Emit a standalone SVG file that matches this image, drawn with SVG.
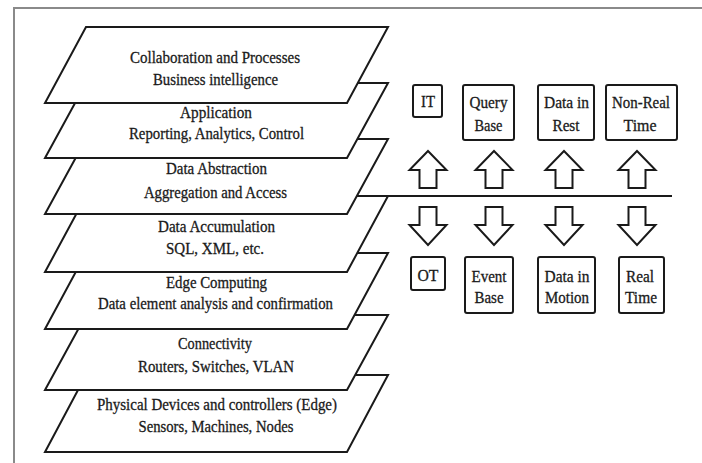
<svg xmlns="http://www.w3.org/2000/svg" width="702" height="463" viewBox="0 0 702 463">
  <style>
    .layer { fill: #ffffff; stroke: #1a1a1a; stroke-width: 2; stroke-linejoin: miter; }
    .lbl { font-family: "Liberation Serif", "Times New Roman", serif; font-size: 16.5px; fill: #1a1a1a; stroke: #1a1a1a; stroke-width: 0.3; text-anchor: middle; }
    .box { fill: #ffffff; stroke: #1a1a1a; stroke-width: 2; }
    .arrow { fill: #ffffff; stroke: #1a1a1a; stroke-width: 2; stroke-linejoin: miter; }
    .rule { stroke: #1a1a1a; stroke-width: 2; fill: none; }
    .frame { stroke: #8a8a8a; stroke-width: 2; fill: none; }
  </style>
  <rect x="0" y="0" width="702" height="463" fill="#ffffff"/>

  <!-- outer frame: top and left edges -->
  <path class="frame" d="M14,463 V8 H702"/>

  <!-- stacked layers, drawn bottom-up so upper layers overlap lower ones -->
  <g id="layer-physical">
    <polygon class="layer" points="86,375 388,375 347,452 45,452"/>
    <text class="lbl" x="217" y="410" textLength="240" lengthAdjust="spacingAndGlyphs">Physical Devices and controllers (Edge)</text>
    <text class="lbl" x="216" y="432" textLength="155" lengthAdjust="spacingAndGlyphs">Sensors, Machines, Nodes</text>
  </g>
  <g id="layer-connectivity">
    <polygon class="layer" points="86,315 388,315 347,390 45,390"/>
    <text class="lbl" x="215" y="349" textLength="74" lengthAdjust="spacingAndGlyphs">Connectivity</text>
    <text class="lbl" x="216" y="372" textLength="156" lengthAdjust="spacingAndGlyphs">Routers, Switches, VLAN</text>
  </g>
  <g id="layer-edge">
    <polygon class="layer" points="86,253 388,253 347,329 45,329"/>
    <text class="lbl" x="216.5" y="288" textLength="101" lengthAdjust="spacingAndGlyphs">Edge Computing</text>
    <text class="lbl" x="215.5" y="309" textLength="235" lengthAdjust="spacingAndGlyphs">Data element analysis and confirmation</text>
  </g>
  <g id="layer-accumulation">
    <polygon class="layer" points="86,196 388,196 347,272 45,272"/>
    <text class="lbl" x="216.5" y="232" textLength="117" lengthAdjust="spacingAndGlyphs">Data Accumulation</text>
    <text class="lbl" x="215" y="254" textLength="98" lengthAdjust="spacingAndGlyphs">SQL, XML, etc.</text>
  </g>
  <g id="layer-abstraction">
    <polygon class="layer" points="86,139 388,139 347,214 45,214"/>
    <text class="lbl" x="216.5" y="174" textLength="101" lengthAdjust="spacingAndGlyphs">Data Abstraction</text>
    <text class="lbl" x="215.5" y="198" textLength="143" lengthAdjust="spacingAndGlyphs">Aggregation and Access</text>
  </g>
  <g id="layer-application">
    <polygon class="layer" points="86,83 388,83 347,158 45,158"/>
    <text class="lbl" x="216" y="118" textLength="72" lengthAdjust="spacingAndGlyphs">Application</text>
    <text class="lbl" x="216.5" y="139" textLength="175" lengthAdjust="spacingAndGlyphs">Reporting, Analytics, Control</text>
  </g>
  <g id="layer-collaboration">
    <polygon class="layer" points="86,27 388,27 347,103 45,103"/>
    <text class="lbl" x="215" y="63" textLength="170" lengthAdjust="spacingAndGlyphs">Collaboration and Processes</text>
    <text class="lbl" x="215.5" y="85" textLength="125" lengthAdjust="spacingAndGlyphs">Business intelligence</text>
  </g>

  <!-- IT / OT dividing rule and block arrows -->
  <g id="connectors">
    <line class="rule" x1="388" y1="196" x2="672" y2="196"/>
    <g id="up-arrows">
      <path class="arrow" d="M428,151 L446.5,170 H436.5 V188 H419.5 V170 H409.5 Z"/>
      <path class="arrow" d="M494,151 L512.5,170 H502.5 V188 H485.5 V170 H475.5 Z"/>
      <path class="arrow" d="M564,151 L582.5,170 H572.5 V188 H555.5 V170 H545.5 Z"/>
      <path class="arrow" d="M637,151 L655.5,170 H645.5 V188 H628.5 V170 H618.5 Z"/>
    </g>
    <g id="down-arrows">
      <path class="arrow" d="M419.5,207 H436.5 V225 H446.5 L428,245 L409.5,225 H419.5 Z"/>
      <path class="arrow" d="M485.5,207 H502.5 V225 H512.5 L494,245 L475.5,225 H485.5 Z"/>
      <path class="arrow" d="M555.5,207 H572.5 V225 H582.5 L564,245 L545.5,225 H555.5 Z"/>
      <path class="arrow" d="M628.5,207 H645.5 V225 H655.5 L637,245 L618.5,225 H628.5 Z"/>
    </g>
  </g>

  <!-- upper row: IT side -->
  <g id="box-it">
    <rect class="box" x="413" y="85" width="29" height="32" rx="2"/>
    <text class="lbl" x="428" y="107" textLength="14" lengthAdjust="spacingAndGlyphs">IT</text>
  </g>
  <g id="box-query-base">
    <rect class="box" x="463" y="85" width="51" height="55" rx="2"/>
    <text class="lbl" x="488.5" y="108" textLength="38" lengthAdjust="spacingAndGlyphs">Query</text>
    <text class="lbl" x="488.5" y="131" textLength="28" lengthAdjust="spacingAndGlyphs">Base</text>
  </g>
  <g id="box-data-rest">
    <rect class="box" x="538" y="85" width="56" height="55" rx="2"/>
    <text class="lbl" x="566.5" y="108" textLength="45" lengthAdjust="spacingAndGlyphs">Data in</text>
    <text class="lbl" x="566" y="131" textLength="27" lengthAdjust="spacingAndGlyphs">Rest</text>
  </g>
  <g id="box-non-real-time">
    <rect class="box" x="606" y="85" width="71" height="55" rx="2"/>
    <text class="lbl" x="641" y="108" textLength="58" lengthAdjust="spacingAndGlyphs">Non-Real</text>
    <text class="lbl" x="640" y="131" textLength="33" lengthAdjust="spacingAndGlyphs">Time</text>
  </g>

  <!-- lower row: OT side -->
  <g id="box-ot">
    <rect class="box" x="411" y="257" width="34" height="33" rx="2"/>
    <text class="lbl" x="428" y="281" textLength="21" lengthAdjust="spacingAndGlyphs">OT</text>
  </g>
  <g id="box-event-base">
    <rect class="box" x="465" y="257" width="48" height="56" rx="2"/>
    <text class="lbl" x="489" y="282" textLength="35" lengthAdjust="spacingAndGlyphs">Event</text>
    <text class="lbl" x="489" y="303" textLength="29" lengthAdjust="spacingAndGlyphs">Base</text>
  </g>
  <g id="box-data-motion">
    <rect class="box" x="538" y="257" width="57" height="56" rx="2"/>
    <text class="lbl" x="567" y="282" textLength="45" lengthAdjust="spacingAndGlyphs">Data in</text>
    <text class="lbl" x="567" y="303" textLength="44" lengthAdjust="spacingAndGlyphs">Motion</text>
  </g>
  <g id="box-real-time">
    <rect class="box" x="619" y="257" width="45" height="56" rx="2"/>
    <text class="lbl" x="640" y="282" textLength="28" lengthAdjust="spacingAndGlyphs">Real</text>
    <text class="lbl" x="641" y="303" textLength="32" lengthAdjust="spacingAndGlyphs">Time</text>
  </g>
</svg>
